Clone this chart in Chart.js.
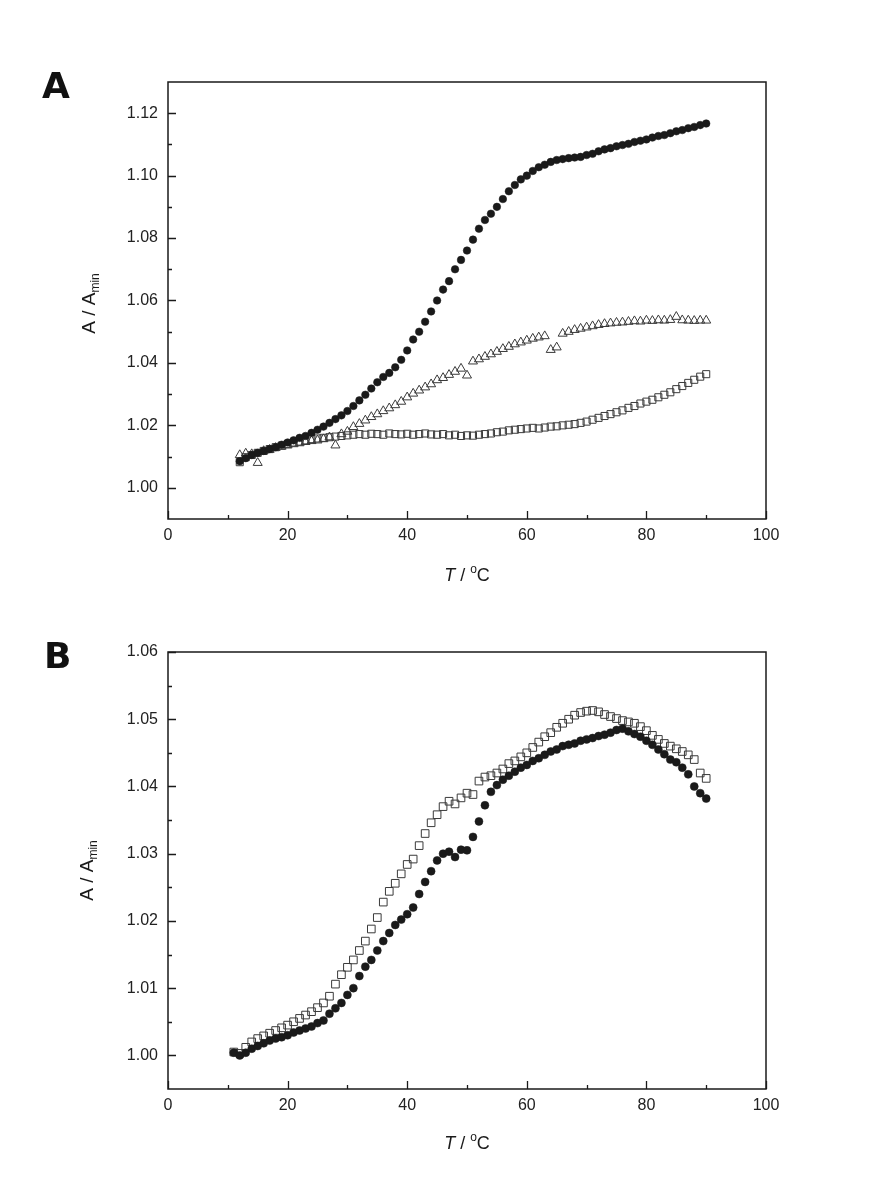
<!DOCTYPE html>
<html><head><meta charset="utf-8">
<script src="https://cdn.jsdelivr.net/npm/chart.js@4.4.1/dist/chart.umd.min.js"></script>
<style>
html,body{margin:0;padding:0;background:#fff;}
#wrap{position:relative;width:882px;height:1189px;background:#fff;}
canvas{position:absolute;left:0;}
</style></head><body>
<div id="wrap">
<canvas id="cA" width="882" height="595" style="top:0"></canvas>
<canvas id="cB" width="882" height="594" style="top:595px"></canvas>
</div>
<script>
// ---------- Panel A data ----------
const tempA = [12,13,14,15,16,17,18,19,20,21,22,23,24,25,26,27,28,29,30,31,32,33,34,35,36,37,38,39,40,41,
  42,43,44,45,46,47,48,49,50,51,52,53,54,55,56,57,58,59,60,61,62,63,64,65,66,67,68,69,70,71,
  72,73,74,75,76,77,78,79,80,81,82,83,84,85,86,87,88,89,90];
const circlesA = [1.0085,1.0095,1.0105,1.0112,1.0118,1.0124,1.0130,1.0138,1.0145,1.0152,
  1.0160,1.0166,1.0176,1.0186,1.0196,1.0208,1.0220,1.0232,1.0246,1.0262,
  1.0280,1.0298,1.0318,1.0338,1.0355,1.0368,1.0386,1.0410,1.0440,1.0475,
  1.0500,1.0532,1.0565,1.0600,1.0635,1.0662,1.0700,1.0730,1.0760,1.0795,
  1.0830,1.0858,1.0878,1.0900,1.0925,1.0950,1.0970,1.0988,1.1000,1.1015,
  1.1027,1.1035,1.1044,1.1050,1.1053,1.1056,1.1058,1.1060,1.1066,1.1070,
  1.1078,1.1084,1.1088,1.1094,1.1098,1.1102,1.1108,1.1112,1.1116,1.1122,
  1.1127,1.1130,1.1136,1.1142,1.1146,1.1152,1.1156,1.1162,1.1167];
const trianglesA = [1.0105,1.0110,1.0108,1.0080,1.0118,1.0122,1.0128,1.0132,1.0136,1.0140,
  1.0143,1.0147,1.0150,1.0152,1.0156,1.0162,1.0136,1.0172,1.0180,1.0195,
  1.0205,1.0216,1.0227,1.0236,1.0246,1.0255,1.0265,1.0276,1.0290,1.0302,
  1.0312,1.0322,1.0332,1.0345,1.0352,1.0362,1.0372,1.0382,1.0360,1.0405,
  1.0412,1.0420,1.0428,1.0436,1.0445,1.0452,1.0460,1.0466,1.0472,1.0478,
  1.0482,1.0486,1.0442,1.0450,1.0494,1.0500,1.0506,1.0510,1.0514,1.0518,
  1.0522,1.0525,1.0527,1.0529,1.0530,1.0532,1.0534,1.0533,1.0536,1.0535,
  1.0537,1.0536,1.0538,1.0548,1.0537,1.0536,1.0535,1.0536,1.0536];
const squaresA = [1.0082,1.0098,1.0105,1.0112,1.0118,1.0124,1.0130,1.0135,1.0140,1.0145,
  1.0148,1.0152,1.0156,1.0158,1.0160,1.0162,1.0164,1.0166,1.0168,1.0170,
  1.0172,1.0170,1.0173,1.0172,1.0170,1.0174,1.0172,1.0171,1.0173,1.0170,
  1.0172,1.0174,1.0171,1.0170,1.0172,1.0168,1.0170,1.0166,1.0168,1.0167,
  1.0170,1.0172,1.0174,1.0178,1.0180,1.0184,1.0186,1.0188,1.0190,1.0192,
  1.0190,1.0193,1.0196,1.0197,1.0200,1.0202,1.0204,1.0208,1.0212,1.0218,
  1.0224,1.0230,1.0236,1.0242,1.0248,1.0256,1.0262,1.0270,1.0276,1.0282,
  1.0290,1.0298,1.0306,1.0316,1.0326,1.0336,1.0346,1.0356,1.0364];

// ---------- Panel B data ----------
const tempB = [11,12,13,14,15,16,17,18,19,20,21,22,23,24,25,26,27,28,29,30,
  31,32,33,34,35,36,37,38,39,40,41,42,43,44,45,46,47,48,49,50,
  51,52,53,54,55,56,57,58,59,60,61,62,63,64,65,66,67,68,69,70,
  71,72,73,74,75,76,77,78,79,80,81,82,83,84,85,86,87,88,89,90];
const squaresB = [1.0005,1.0003,1.0012,1.0020,1.0025,1.0029,1.0033,1.0037,1.0041,1.0045,
  1.0050,1.0055,1.0060,1.0065,1.0071,1.0078,1.0088,1.0106,1.0120,1.0131,
  1.0142,1.0156,1.0170,1.0188,1.0205,1.0228,1.0244,1.0256,1.0270,1.0284,
  1.0292,1.0312,1.0330,1.0346,1.0358,1.0370,1.0378,1.0374,1.0383,1.0390,
  1.0388,1.0408,1.0414,1.0416,1.0420,1.0426,1.0434,1.0438,1.0444,1.0450,
  1.0458,1.0466,1.0474,1.0480,1.0488,1.0494,1.0500,1.0506,1.0510,1.0512,
  1.0513,1.0511,1.0507,1.0504,1.0501,1.0498,1.0496,1.0494,1.0489,1.0483,
  1.0476,1.0470,1.0464,1.0460,1.0456,1.0452,1.0447,1.0440,1.0420,1.0412];
const circlesB = [1.0004,1.0000,1.0004,1.0010,1.0014,1.0018,1.0022,1.0025,1.0027,1.0030,
  1.0034,1.0037,1.0040,1.0043,1.0048,1.0052,1.0062,1.0070,1.0078,1.0090,
  1.0100,1.0118,1.0132,1.0142,1.0156,1.0170,1.0182,1.0194,1.0202,1.0210,
  1.0220,1.0240,1.0258,1.0274,1.0290,1.0300,1.0303,1.0295,1.0306,1.0305,
  1.0325,1.0348,1.0372,1.0392,1.0402,1.0410,1.0416,1.0422,1.0428,1.0432,
  1.0438,1.0442,1.0447,1.0452,1.0455,1.0460,1.0462,1.0464,1.0468,1.0470,
  1.0472,1.0475,1.0477,1.0480,1.0484,1.0486,1.0482,1.0478,1.0474,1.0468,
  1.0462,1.0455,1.0448,1.0440,1.0436,1.0428,1.0418,1.0400,1.0390,1.0382];

// ---------- Tick values ----------
const xTicks = [0,20,40,60,80,100];
const xMinorTicks = [10,30,50,70,90];
const yTicksA = [1.00,1.02,1.04,1.06,1.08,1.10,1.12];
const yMinorTicksA = [1.01,1.03,1.05,1.07,1.09,1.11];
const yTicksB = [1.00,1.01,1.02,1.03,1.04,1.05,1.06];
const yMinorTicksB = [1.005,1.015,1.025,1.035,1.045,1.055];

const FONT = "'Liberation Sans', Arial, sans-serif";
const INK = '#1a1a1a';

function pts(xs, ys){ return xs.map((x,i)=>({x:x, y:ys[i]})); }

function framePlugin(cfg){
  return {
    id:'frame'+cfg.letter,
    afterDraw(chart){
      const ctx = chart.ctx, a = chart.chartArea;
      const xs = chart.scales.x, ys = chart.scales.y;
      ctx.save();
      ctx.strokeStyle = INK; ctx.lineWidth = 1.5;
      ctx.strokeRect(a.left, a.top, a.right - a.left, a.bottom - a.top);
      ctx.lineWidth = 1.3;
      ctx.beginPath();
      const tick = (vals, len, horiz) => vals.forEach(v => {
        if (horiz) { const p = Math.round(xs.getPixelForValue(v)) + 0.5; ctx.moveTo(p, a.bottom); ctx.lineTo(p, a.bottom - len); }
        else { const p = Math.round(ys.getPixelForValue(v)) + 0.5; ctx.moveTo(a.left, p); ctx.lineTo(a.left + len, p); }
      });
      tick(xTicks, 8, true); tick(xMinorTicks, 4, true);
      tick(cfg.yMajor, 8, false); tick(cfg.yMinor, 4, false);
      ctx.stroke();

      // x axis title: T / °C
      ctx.fillStyle = INK; ctx.textBaseline = 'alphabetic';
      const parts = [
        {t:'T', f:'italic 18px '+FONT, dy:0},
        {t:' / ', f:'18px '+FONT, dy:0},
        {t:'o', f:'12px '+FONT, dy:-8},
        {t:'C', f:'18px '+FONT, dy:0}
      ];
      let w = 0; parts.forEach(p => { ctx.font = p.f; p.w = ctx.measureText(p.t).width; w += p.w; });
      let x0 = (a.left + a.right)/2 - w/2; const by = a.bottom + cfg.xTitleOff;
      parts.forEach(p => { ctx.font = p.f; ctx.textAlign = 'left'; ctx.fillText(p.t, x0, by + p.dy); x0 += p.w; });

      // y axis title: A / A_min
      const yparts = [
        {t:'A / A', f:cfg.yItalic + '19px '+FONT, dy:0},
        {t:'min', f:'12px '+FONT, dy:4}
      ];
      let wy = 0; yparts.forEach(p => { ctx.font = p.f; p.w = ctx.measureText(p.t).width; wy += p.w; });
      ctx.translate(cfg.yTitleX, (a.top + a.bottom)/2 + cfg.yTitleShift);
      ctx.rotate(-Math.PI/2);
      let s = -wy/2;
      yparts.forEach(p => { ctx.font = p.f; ctx.fillText(p.t, s, p.dy); s += p.w; });
      ctx.setTransform(1,0,0,1,0,0);

      // panel letter
      ctx.font = "bold 36px 'DejaVu Sans', sans-serif";
      ctx.fillStyle = '#111';
      ctx.fillText(cfg.letter, cfg.letterX, cfg.letterY);
      ctx.restore();
    }
  };
}

function makeChart(id, datasets, yMin, yMax, yMajor, yMinor, padTop, xAxisH, cfg){
  return new Chart(document.getElementById(id), {
    type:'scatter',
    data:{ datasets: datasets },
    options:{
      responsive:false, animation:false, events:[],
      devicePixelRatio:1,
      layout:{ padding:{ left:0, top:padTop, right:116, bottom:0 } },
      plugins:{ legend:{display:false}, tooltip:{enabled:false}, title:{display:false} },
      scales:{
        x:{ type:'linear', min:0, max:100,
            afterBuildTicks: s => { s.ticks = xTicks.map(v => ({value:v})); },
            afterFit: s => { s.height = xAxisH; },
            ticks:{ font:{family:FONT, size:16}, color:'#222', padding:7, maxRotation:0, autoSkip:false,
                    callback: v => String(v) },
            grid:{ display:false, drawTicks:false }, border:{ display:false } },
        y:{ type:'linear', min:yMin, max:yMax,
            afterBuildTicks: s => { s.ticks = yMajor.map(v => ({value:v})); },
            afterFit: s => { s.width = 168; },
            ticks:{ font:{family:FONT, size:16}, color:'#222', padding:10, autoSkip:false,
                    callback: v => Number(v).toFixed(2) },
            grid:{ display:false, drawTicks:false }, border:{ display:false } }
      }
    },
    plugins:[ framePlugin(Object.assign({yMajor:yMajor, yMinor:yMinor}, cfg)) ]
  });
}

makeChart('cA', [
  { data: pts(tempA, circlesA), pointStyle:'circle', pointRadius:3.8, backgroundColor:INK, borderColor:INK, borderWidth:0.5, showLine:false },
  { data: pts(tempA, trianglesA), pointStyle:'triangle', pointRadius:5.2, backgroundColor:'rgba(255,255,255,0)', borderColor:'#3a3a3a', borderWidth:1, showLine:false },
  { data: pts(tempA, squaresA), pointStyle:'rect', pointRadius:5, backgroundColor:'rgba(255,255,255,0)', borderColor:'#3a3a3a', borderWidth:1, showLine:false }
], 0.99, 1.13, yTicksA, yMinorTicksA, 82, 76,
  { letter:'A', letterX:42, letterY:98, xTitleOff:62, yTitleX:95, yTitleShift:3, yItalic:'' });

makeChart('cB', [
  { data: pts(tempB, circlesB), pointStyle:'circle', pointRadius:4, backgroundColor:INK, borderColor:INK, borderWidth:0.5, showLine:false },
  { data: pts(tempB, squaresB), pointStyle:'rect', pointRadius:5.4, backgroundColor:'rgba(255,255,255,0)', borderColor:'#3a3a3a', borderWidth:1, showLine:false }
], 0.995, 1.06, yTicksB, yMinorTicksB, 57, 100,
  { letter:'B', letterX:44, letterY:668-595, xTitleOff:60, yTitleX:93, yTitleShift:0, yItalic:'' });
</script>
</body></html>
